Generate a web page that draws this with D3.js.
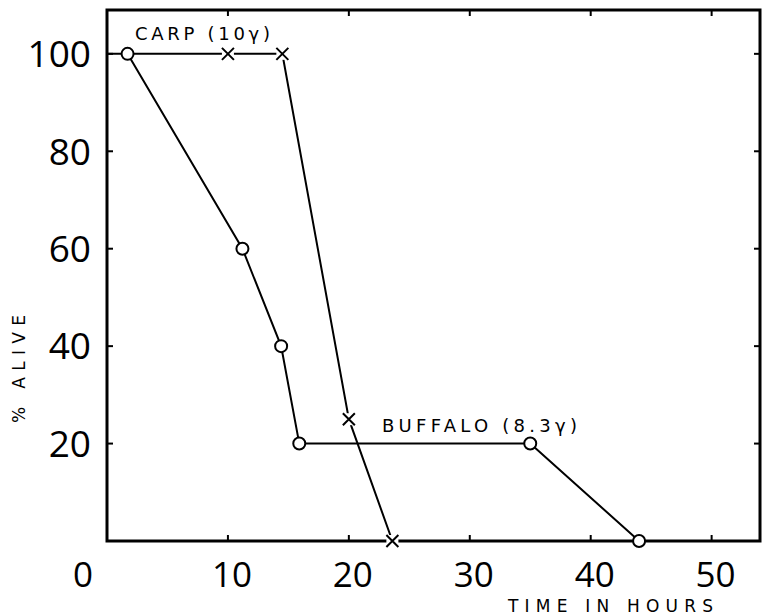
<!DOCTYPE html>
<html>
<head>
<meta charset="utf-8">
<script src="https://cdn.jsdelivr.net/npm/d3@7"></script>
<style>
  body { margin: 0; background: #fff; }
  text { font-family: "Open Sans", "DejaVu Sans", sans-serif; fill: #000; }
  text.lab { font-family: "DejaVu Sans", sans-serif; }
</style>
</head>
<body>
<div id="chart"></div>
<script>
// survival of fish vs time
var buffaloHours = [1.7, 11.2, 14.4, 15.9, 35, 44];
var buffaloAlive = [100, 60, 40, 20, 20, 0];
var carpHours = [0, 10, 14.5, 20, 23.6];
var carpAlive = [100, 100, 100, 25, 0];
var xTicks = [0, 10, 20, 30, 40, 50];
var yTicks = [20, 40, 60, 80, 100];

var width = 762, height = 616;
var margin = {top: 10, right: 2, bottom: 75, left: 107};

var svg = d3.select("#chart").append("svg")
    .attr("width", width)
    .attr("height", height);

var x = d3.scaleLinear().domain([0, 54]).range([margin.left, width - margin.right]);
var y = d3.scaleLinear().domain([0, 109]).range([height - margin.bottom, margin.top]);

// frame
svg.append("rect")
    .attr("x", x(0)).attr("y", y(109))
    .attr("width", x(54) - x(0)).attr("height", y(0) - y(109))
    .attr("fill", "none").attr("stroke", "#000").attr("stroke-width", 3);

// inward ticks on all four sides
var tickLen = 6;
svg.append("g").selectAll("line.bt").data(xTicks.slice(1)).enter().append("line")
    .attr("x1", function(d) { return x(d); }).attr("x2", function(d) { return x(d); })
    .attr("y1", y(0)).attr("y2", y(0) - tickLen)
    .attr("stroke", "#000").attr("stroke-width", 2);
svg.append("g").selectAll("line.tt").data(xTicks.slice(1)).enter().append("line")
    .attr("x1", function(d) { return x(d); }).attr("x2", function(d) { return x(d); })
    .attr("y1", y(109)).attr("y2", y(109) + tickLen)
    .attr("stroke", "#000").attr("stroke-width", 2);
svg.append("g").selectAll("line.lt").data(yTicks).enter().append("line")
    .attr("x1", x(0)).attr("x2", x(0) + tickLen)
    .attr("y1", function(d) { return y(d); }).attr("y2", function(d) { return y(d); })
    .attr("stroke", "#000").attr("stroke-width", 2);
svg.append("g").selectAll("line.rt").data(yTicks).enter().append("line")
    .attr("x1", x(54)).attr("x2", x(54) - tickLen)
    .attr("y1", function(d) { return y(d); }).attr("y2", function(d) { return y(d); })
    .attr("stroke", "#000").attr("stroke-width", 2);

// tick labels
svg.append("g").selectAll("text").data(xTicks).enter().append("text")
    .attr("x", function(d) { return d === 0 ? x(d) - 24 : x(d) + 4; })
    .attr("y", 587)
    .attr("text-anchor", "middle")
    .style("font-size", "35px")
    .text(function(d) { return d; });

svg.append("g").selectAll("text").data(yTicks).enter().append("text")
    .attr("x", 91)
    .attr("y", function(d) { return y(d); })
    .attr("dy", "0.36em")
    .attr("text-anchor", "end")
    .style("font-size", "37px")
    .text(function(d) { return d; });

// axis titles
svg.append("text").attr("class", "lab")
    .attr("transform", "translate(25," + 369 + ") rotate(-90)")
    .attr("text-anchor", "middle")
    .attr("textLength", 108).attr("lengthAdjust", "spacing")
    .style("font-size", "17px")
    .text("% ALIVE");

svg.append("text").attr("class", "lab")
    .attr("x", 508).attr("y", 612)
    .attr("textLength", 205).attr("lengthAdjust", "spacing")
    .style("font-size", "17px")
    .text("TIME IN HOURS");

var line = d3.line()
    .x(function(d) { return x(d[0]); })
    .y(function(d) { return y(d[1]); });

var carp = d3.zip(carpHours, carpAlive);
var buffalo = d3.zip(buffaloHours, buffaloAlive);

svg.append("path").datum(carp)
    .attr("d", line).attr("fill", "none")
    .attr("stroke", "#000").attr("stroke-width", 2);

svg.append("path").datum(buffalo)
    .attr("d", line).attr("fill", "none")
    .attr("stroke", "#000").attr("stroke-width", 2);

// carp markers (x)
var s = 6;
var cross = svg.append("g").selectAll("g").data(carp.filter(function(d) { return d[0] > 0; }))
    .enter().append("g")
    .attr("transform", function(d) { return "translate(" + x(d[0]) + "," + y(d[1]) + ")"; });
cross.append("rect").attr("x", -s).attr("y", -s).attr("width", 2 * s).attr("height", 2 * s)
    .attr("fill", "#fff");
cross.append("path")
    .attr("d", "M" + (-s) + "," + (-s) + "L" + s + "," + s + "M" + (-s) + "," + s + "L" + s + "," + (-s))
    .attr("stroke", "#000").attr("stroke-width", 2);

// buffalo markers (o)
svg.append("g").selectAll("circle").data(buffalo).enter().append("circle")
    .attr("cx", function(d) { return x(d[0]); })
    .attr("cy", function(d) { return y(d[1]); })
    .attr("r", 6)
    .attr("fill", "#fff").attr("stroke", "#000").attr("stroke-width", 2);

// series labels
svg.append("text").attr("class", "lab")
    .attr("x", 135).attr("y", 40)
    .attr("textLength", 135).attr("lengthAdjust", "spacing")
    .style("font-size", "18px")
    .text("CARP (10γ)");

svg.append("text").attr("class", "lab")
    .attr("x", 382).attr("y", 432)
    .attr("textLength", 195).attr("lengthAdjust", "spacing")
    .style("font-size", "18px")
    .text("BUFFALO (8.3γ)");
</script>
</body>
</html>
